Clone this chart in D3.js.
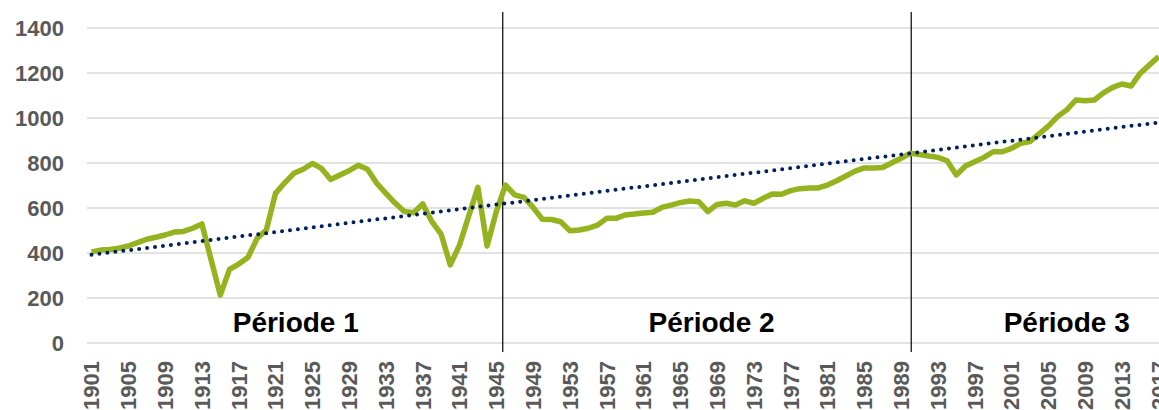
<!DOCTYPE html>
<html>
<head>
<meta charset="utf-8">
<script src="https://cdn.jsdelivr.net/npm/d3@7"></script>
<style>
  body { margin: 0; background: #fff; }
  svg { display: block; }
</style>
</head>
<body>
<div id="chart"></div>
<script>
var width = 1159;
var height = 410;

// values, one per year from 1901
var firstYear = 1901;
var values = [
    405, 413, 416, 421, 431, 446, 461, 470, 480, 493,
    496, 510, 529, 370, 213, 327, 351, 380, 465, 502,
    665, 712, 754, 772, 798, 776, 727, 747, 766, 790,
    772, 710, 665, 622, 584, 579, 618, 539, 484, 347,
    435, 564, 692, 431, 584, 702, 658, 647, 603, 550,
    549, 539, 499, 502, 510, 524, 554, 554, 569, 573,
    578, 581, 603, 613, 624, 631, 628, 584, 616, 621,
    613, 632, 621, 643, 662, 661, 677, 686, 689, 689,
    702, 721, 742, 764, 778, 778, 780, 801, 821, 843,
    838, 831, 825, 810, 747, 787, 806, 825, 850, 850,
    865, 887, 895, 929, 964, 1006, 1036, 1080, 1077, 1080,
    1112, 1136, 1151, 1142, 1199, 1236, 1273
];
var years = values.map(function (v, i) { return firstYear + i; });

// linear trend, start and end values
var trendYears = [1901, 2017];
var trendValues = [392, 980];

var yTicks = [0, 200, 400, 600, 800, 1000, 1200, 1400];
var xTickYears = years.filter(function (y) { return (y - firstYear) % 4 === 0; });

// period separators (drawn by hand in the original, in year units)
var periodBreaks = [1945.7, 1990.1];
var periodNames = ["Période 1", "Période 2", "Période 3"];
var periodCenters = [1923.2, 1968.4, 2007.0];

var x = d3.scaleLinear().domain([1901, 2017]).range([91.5, 1158.7]);
var y = d3.scaleLinear().domain([0, 1400]).range([343, 28]);

var svg = d3.select("#chart").append("svg")
    .attr("width", width).attr("height", height);

// gridlines
svg.append("g").selectAll("line")
    .data(yTicks)
    .enter().append("line")
    .attr("x1", 87)
    .attr("x2", width)
    .attr("y1", function (d) { return y(d); })
    .attr("y2", function (d) { return y(d); })
    .style("stroke", "#d9d9d9")
    .style("stroke-width", 1.5);

// y labels
svg.append("g").selectAll("text")
    .data(yTicks)
    .enter().append("text")
    .attr("x", 64)
    .attr("y", function (d) { return y(d); })
    .attr("dy", "0.36em")
    .attr("text-anchor", "end")
    .style("font-family", "'Liberation Sans', Arial, sans-serif")
    .style("font-weight", "bold")
    .style("font-size", "22px")
    .style("fill", "#595959")
    .text(function (d) { return d; });

// x labels, rotated
svg.append("g").selectAll("text")
    .data(xTickYears)
    .enter().append("text")
    .attr("transform", function (d) { return "translate(" + x(d) + ",361) rotate(-90)"; })
    .attr("dy", "0.36em")
    .attr("text-anchor", "end")
    .style("font-family", "'Liberation Sans', Arial, sans-serif")
    .style("font-weight", "bold")
    .style("font-size", "22px")
    .style("fill", "#595959")
    .text(function (d) { return d; });

// period separators
svg.append("g").selectAll("line")
    .data(periodBreaks)
    .enter().append("line")
    .attr("x1", function (d) { return x(d); })
    .attr("x2", function (d) { return x(d); })
    .attr("y1", 12)
    .attr("y2", 352)
    .style("stroke", "#000")
    .style("stroke-width", 1.2);

// period labels
svg.append("g").selectAll("text")
    .data(periodNames)
    .enter().append("text")
    .attr("x", function (d, i) { return x(periodCenters[i]); })
    .attr("y", 332)
    .attr("text-anchor", "middle")
    .style("font-family", "'Liberation Sans', Arial, sans-serif")
    .style("font-weight", "bold")
    .style("font-size", "28px")
    .style("fill", "#000")
    .text(function (d) { return d; });

// main series
var line = d3.line()
    .x(function (d, i) { return x(years[i]); })
    .y(function (d) { return y(d); });

svg.append("path")
    .datum(values)
    .attr("d", line)
    .style("fill", "none")
    .style("stroke", "#95b31f")
    .style("stroke-width", 5.5)
    .style("stroke-linejoin", "round");

// dotted trend
var trendLine = d3.line()
    .x(function (d, i) { return x(trendYears[i]); })
    .y(function (d) { return y(d); });

svg.append("path")
    .datum(trendValues)
    .attr("d", trendLine)
    .style("fill", "none")
    .style("stroke", "#002060")
    .style("stroke-width", 4)
    .style("stroke-linecap", "round")
    .style("stroke-dasharray", "0 8");
</script>
</body>
</html>
